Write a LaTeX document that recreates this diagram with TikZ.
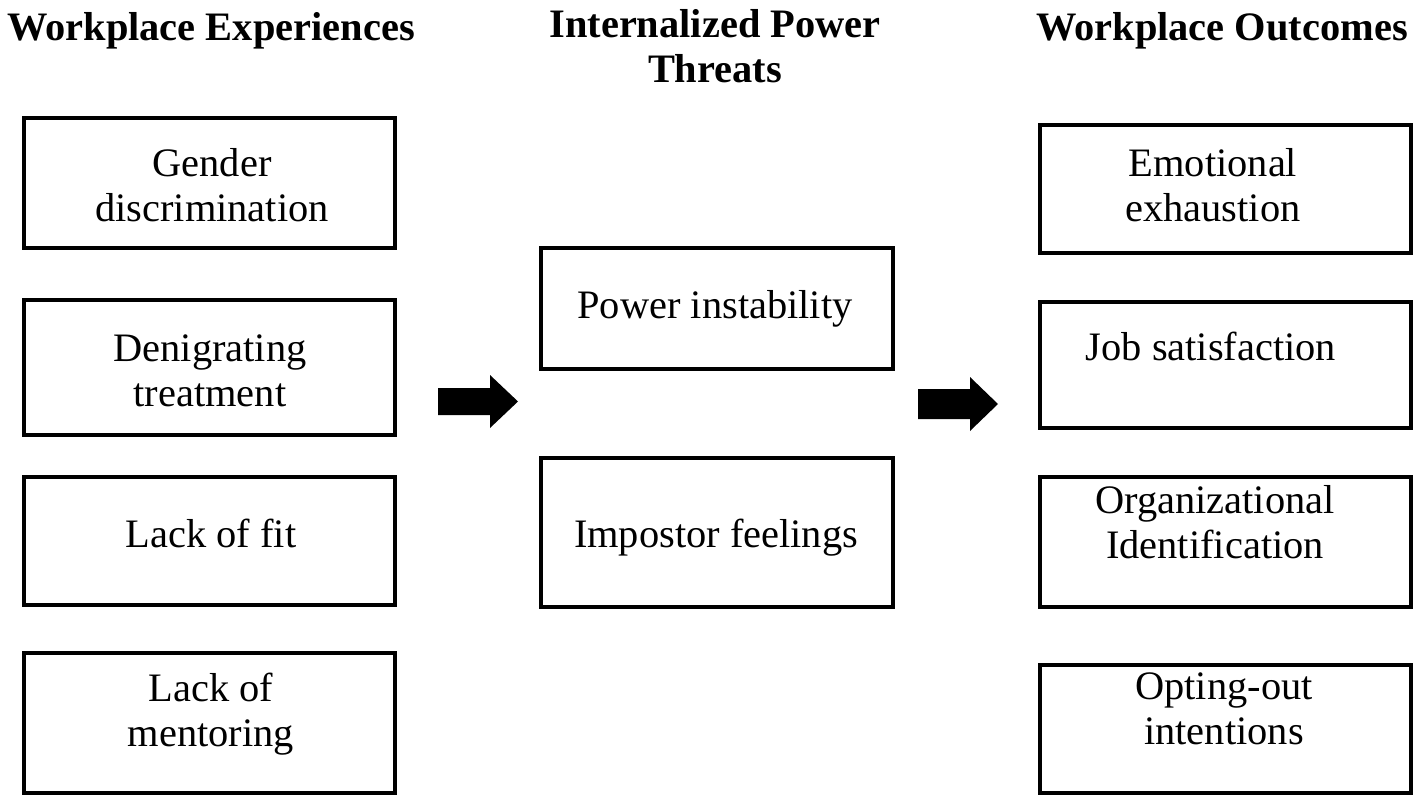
\documentclass[tikz,border=0pt]{standalone}
\usepackage{fontspec}
\setmainfont{Liberation Serif}
\usetikzlibrary{positioning}

\tikzset{
    box/.style={draw, line width=0.9pt, minimum width=3.71cm, inner sep=0pt},
    boxtext/.style={align=center, inner sep=0pt, font=\fontsize{11.5}{12.8}\selectfont},
    colhead/.style={align=center, inner sep=0pt, font=\fontsize{11.5}{12.8}\selectfont\bfseries}
}

\begin{document}
\begin{tikzpicture}
        \useasboundingbox (0, 0) rectangle (14.19, -8.05);

        % Column headings
        \node[colhead, anchor=base] (exphead) at (2.11, -0.40) {Workplace Experiences};
        \node[colhead] (threathead) at (7.15, -0.465) {Internalized Power\\Threats};
        \node[colhead, anchor=base] (outhead) at (12.22, -0.40) {Workplace Outcomes};

        % Workplace experiences
        \node[box, minimum height=1.30cm] (gender) at (2.095, -1.83) {};
        \node[box, minimum height=1.35cm] (denig) at (2.095, -3.675) {};
        \node[box, minimum height=1.28cm] (fit) at (2.095, -5.41) {};
        \node[box, minimum height=1.40cm] (mentor) at (2.095, -7.23) {};
        \node[boxtext] (gendertxt) at (2.12, -1.855) {Gender\\discrimination};
        \node[boxtext] (denigtxt) at (2.10, -3.705) {Denigrating\\treatment};
        \node[boxtext] (fittxt) at (2.11, -5.33) {Lack of fit};
        \node[boxtext] (mentortxt) at (2.11, -7.14) {Lack of\\mentoring};

        % Internalized power threats
        \node[box, minimum width=3.52cm, minimum height=1.21cm] (power) at (7.17, -3.085) {};
        \node[box, minimum width=3.52cm, minimum height=1.49cm] (impostor) at (7.17, -5.325) {};
        \node[boxtext] (powertxt) at (7.15, -3.085) {Power instability};
        \node[boxtext] (impostortxt) at (7.16, -5.375) {Impostor feelings};

        % Workplace outcomes
        \node[box, minimum height=1.28cm] (emotion) at (12.255, -1.89) {};
        \node[box, minimum height=1.26cm] (job) at (12.255, -3.65) {};
        \node[box, minimum height=1.30cm] (orgid) at (12.255, -5.42) {};
        \node[box, minimum height=1.28cm] (optout) at (12.255, -7.29) {};
        \node[boxtext] (emotiontxt) at (12.13, -1.855) {Emotional\\exhaustion};
        \node[boxtext] (jobtxt) at (12.11, -3.46) {Job satisfaction};
        \node[boxtext] (orgidtxt) at (12.15, -5.225) {Organizational\\Identification};
        \node[boxtext] (optouttxt) at (12.24, -7.085) {Opting-out\\intentions};

        % Block arrows between the columns
        \fill (4.38, -3.88) -- (4.90, -3.88) -- (4.90, -3.75) -- (5.18, -4.015) -- (4.90, -4.28) -- (4.90, -4.15) -- (4.38, -4.15) -- cycle;
        \fill (9.18, -3.89) -- (9.70, -3.89) -- (9.70, -3.77) -- (9.98, -4.04) -- (9.70, -4.31) -- (9.70, -4.19) -- (9.18, -4.19) -- cycle;

\end{tikzpicture}
\end{document}
